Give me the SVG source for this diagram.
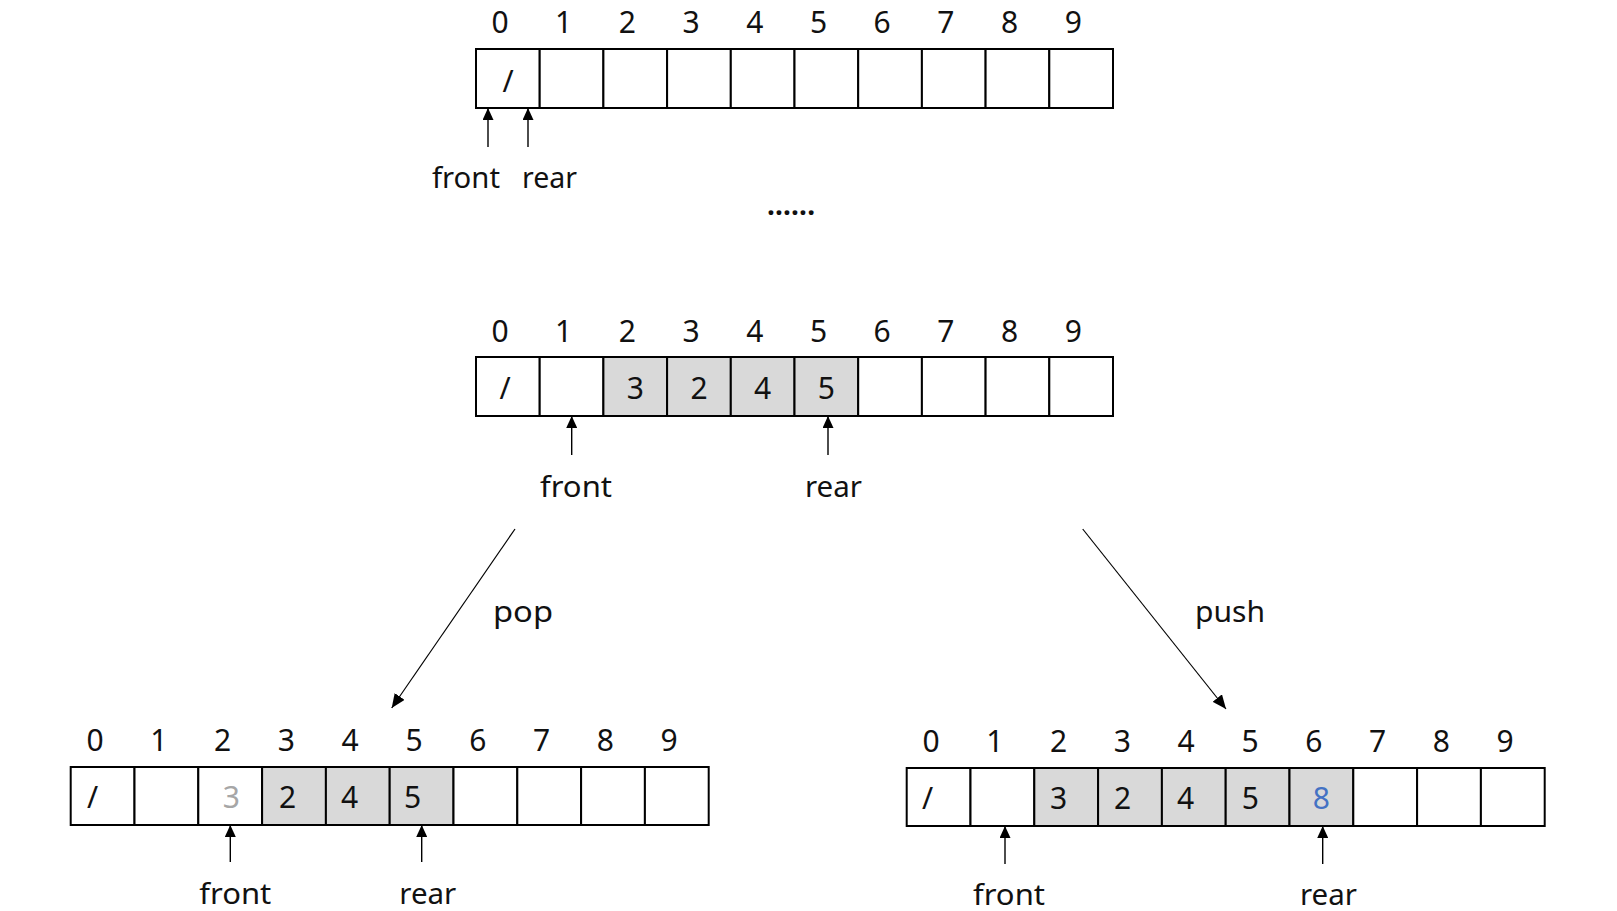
<svg xmlns="http://www.w3.org/2000/svg" width="1617" height="911" viewBox="0 0 1617 911">
<style>
text{font-family:"Noto Sans","Open Sans","Liberation Sans",sans-serif;fill:#111;}
.idx{font-size:30px;text-anchor:middle;}
.val{font-size:30px;}
.valc{font-size:30px;text-anchor:middle;}
.lbl{font-size:29px;}
.cell{fill:#fff;stroke:#000;stroke-width:2;}
.full{fill:#d9d9d9;stroke:#000;stroke-width:2;}
.ptr{stroke:#000;stroke-width:1.4;fill:none;}
.conn{stroke:#000;stroke-width:1.2;fill:none;}
</style>
<defs>
<marker id="ah" markerUnits="userSpaceOnUse" markerWidth="12" markerHeight="11" refX="12" refY="5.5" orient="auto">
<path d="M0,0 L12,5.5 L0,11 z" fill="#000"/>
</marker>
<marker id="ah2" markerUnits="userSpaceOnUse" markerWidth="14" markerHeight="12" refX="14" refY="6" orient="auto">
<path d="M0,0 L14,6 L0,12 z" fill="#000"/>
</marker>
</defs>

<g id="array-initial">
<g>
<rect class="cell" x="476" y="49" width="63.7" height="59"/>
<rect class="cell" x="539.7" y="49" width="63.7" height="59"/>
<rect class="cell" x="603.4" y="49" width="63.7" height="59"/>
<rect class="cell" x="667.1" y="49" width="63.7" height="59"/>
<rect class="cell" x="730.8" y="49" width="63.7" height="59"/>
<rect class="cell" x="794.5" y="49" width="63.7" height="59"/>
<rect class="cell" x="858.2" y="49" width="63.7" height="59"/>
<rect class="cell" x="921.9" y="49" width="63.7" height="59"/>
<rect class="cell" x="985.6" y="49" width="63.7" height="59"/>
<rect class="cell" x="1049.3" y="49" width="63.7" height="59"/>
</g>
<text class="idx" x="500" y="33">0</text>
<text class="idx" x="563.7" y="33">1</text>
<text class="idx" x="627.4" y="33">2</text>
<text class="idx" x="691.1" y="33">3</text>
<text class="idx" x="754.8" y="33">4</text>
<text class="idx" x="818.5" y="33">5</text>
<text class="idx" x="882.2" y="33">6</text>
<text class="idx" x="945.9" y="33">7</text>
<text class="idx" x="1009.6" y="33">8</text>
<text class="idx" x="1073.3" y="33">9</text>
<text class="valc" x="508" y="92">/</text>
<text class="lbl" x="432" y="188" textLength="68" lengthAdjust="spacingAndGlyphs">front</text>
<text class="lbl" x="522" y="188" textLength="55" lengthAdjust="spacingAndGlyphs">rear</text>
</g>

<g id="ellipsis">
<text x="767" y="215" font-size="28" font-weight="bold" textLength="48" lengthAdjust="spacing">......</text>
</g>

<g id="array-middle">
<g>
<rect class="cell" x="476" y="357" width="63.7" height="59"/>
<rect class="cell" x="539.7" y="357" width="63.7" height="59"/>
<rect class="full" x="603.4" y="357" width="63.7" height="59"/>
<rect class="full" x="667.1" y="357" width="63.7" height="59"/>
<rect class="full" x="730.8" y="357" width="63.7" height="59"/>
<rect class="full" x="794.5" y="357" width="63.7" height="59"/>
<rect class="cell" x="858.2" y="357" width="63.7" height="59"/>
<rect class="cell" x="921.9" y="357" width="63.7" height="59"/>
<rect class="cell" x="985.6" y="357" width="63.7" height="59"/>
<rect class="cell" x="1049.3" y="357" width="63.7" height="59"/>
</g>
<text class="idx" x="500" y="341.7">0</text>
<text class="idx" x="563.7" y="341.7">1</text>
<text class="idx" x="627.4" y="341.7">2</text>
<text class="idx" x="691.1" y="341.7">3</text>
<text class="idx" x="754.8" y="341.7">4</text>
<text class="idx" x="818.5" y="341.7">5</text>
<text class="idx" x="882.2" y="341.7">6</text>
<text class="idx" x="945.9" y="341.7">7</text>
<text class="idx" x="1009.6" y="341.7">8</text>
<text class="idx" x="1073.3" y="341.7">9</text>
<text class="valc" x="505" y="399">/</text>
<text class="valc" x="635.3" y="399">3</text>
<text class="valc" x="699" y="399">2</text>
<text class="valc" x="762.7" y="399">4</text>
<text class="valc" x="826.4" y="399">5</text>
<text class="lbl" x="540" y="497" textLength="72" lengthAdjust="spacingAndGlyphs">front</text>
<text class="lbl" x="805" y="497" textLength="57" lengthAdjust="spacingAndGlyphs">rear</text>
</g>

<g id="array-pop">
<g>
<rect class="cell" x="70.7" y="767" width="63.8" height="58"/>
<rect class="cell" x="134.5" y="767" width="63.8" height="58"/>
<rect class="cell" x="198.3" y="767" width="63.8" height="58"/>
<rect class="full" x="262.1" y="767" width="63.8" height="58"/>
<rect class="full" x="325.9" y="767" width="63.8" height="58"/>
<rect class="full" x="389.7" y="767" width="63.8" height="58"/>
<rect class="cell" x="453.5" y="767" width="63.8" height="58"/>
<rect class="cell" x="517.3" y="767" width="63.8" height="58"/>
<rect class="cell" x="581.1" y="767" width="63.8" height="58"/>
<rect class="cell" x="644.9" y="767" width="63.8" height="58"/>
</g>
<text class="idx" x="95" y="751">0</text>
<text class="idx" x="158.8" y="751">1</text>
<text class="idx" x="222.6" y="751">2</text>
<text class="idx" x="286.4" y="751">3</text>
<text class="idx" x="350.2" y="751">4</text>
<text class="idx" x="414" y="751">5</text>
<text class="idx" x="477.8" y="751">6</text>
<text class="idx" x="541.6" y="751">7</text>
<text class="idx" x="605.4" y="751">8</text>
<text class="idx" x="669.2" y="751">9</text>
<text class="val" x="87" y="808">/</text>
<text class="val" x="222.7" y="808" style="fill:#a6a6a6">3</text>
<text class="val" x="279" y="808">2</text>
<text class="val" x="341" y="808">4</text>
<text class="val" x="404" y="808">5</text>
<text class="lbl" x="199.3" y="904" textLength="72" lengthAdjust="spacingAndGlyphs">front</text>
<text class="lbl" x="399.3" y="904" textLength="57" lengthAdjust="spacingAndGlyphs">rear</text>
</g>

<g id="array-push">
<g>
<rect class="cell" x="906.7" y="768" width="63.8" height="58"/>
<rect class="cell" x="970.5" y="768" width="63.8" height="58"/>
<rect class="full" x="1034.3" y="768" width="63.8" height="58"/>
<rect class="full" x="1098.1" y="768" width="63.8" height="58"/>
<rect class="full" x="1161.9" y="768" width="63.8" height="58"/>
<rect class="full" x="1225.7" y="768" width="63.8" height="58"/>
<rect class="full" x="1289.5" y="768" width="63.8" height="58"/>
<rect class="cell" x="1353.3" y="768" width="63.8" height="58"/>
<rect class="cell" x="1417.1" y="768" width="63.8" height="58"/>
<rect class="cell" x="1480.9" y="768" width="63.8" height="58"/>
</g>
<text class="idx" x="931" y="752">0</text>
<text class="idx" x="994.8" y="752">1</text>
<text class="idx" x="1058.6" y="752">2</text>
<text class="idx" x="1122.4" y="752">3</text>
<text class="idx" x="1186.2" y="752">4</text>
<text class="idx" x="1250" y="752">5</text>
<text class="idx" x="1313.8" y="752">6</text>
<text class="idx" x="1377.6" y="752">7</text>
<text class="idx" x="1441.4" y="752">8</text>
<text class="idx" x="1505.2" y="752">9</text>
<text class="val" x="922" y="809">/</text>
<text class="val" x="1050" y="809">3</text>
<text class="val" x="1114" y="809">2</text>
<text class="val" x="1177" y="809">4</text>
<text class="val" x="1241.7" y="809">5</text>
<text class="val" x="1312.7" y="809" style="fill:#4472c4">8</text>
<text class="lbl" x="973" y="905" textLength="72" lengthAdjust="spacingAndGlyphs">front</text>
<text class="lbl" x="1300" y="905" textLength="57" lengthAdjust="spacingAndGlyphs">rear</text>
</g>

<g id="labels">
<text class="lbl" x="493" y="622" textLength="60" lengthAdjust="spacingAndGlyphs">pop</text>
<text class="lbl" x="1195" y="622" textLength="70" lengthAdjust="spacingAndGlyphs">push</text>
</g>

<g id="connectors">
<line class="ptr" x1="488" y1="147" x2="488" y2="108" marker-end="url(#ah)"/>
<line class="ptr" x1="528" y1="147" x2="528" y2="108" marker-end="url(#ah)"/>
<line class="ptr" x1="571.7" y1="455" x2="571.7" y2="416" marker-end="url(#ah)"/>
<line class="ptr" x1="828" y1="455" x2="828" y2="416" marker-end="url(#ah)"/>
<line class="ptr" x1="230.3" y1="862" x2="230.3" y2="825" marker-end="url(#ah)"/>
<line class="ptr" x1="421.7" y1="862" x2="421.7" y2="825" marker-end="url(#ah)"/>
<line class="ptr" x1="1005" y1="864" x2="1005" y2="826" marker-end="url(#ah)"/>
<line class="ptr" x1="1322.7" y1="864" x2="1322.7" y2="826" marker-end="url(#ah)"/>
<line class="conn" x1="515" y1="529" x2="391.7" y2="708" marker-end="url(#ah2)"/>
<line class="conn" x1="1082.7" y1="529" x2="1226" y2="709" marker-end="url(#ah2)"/>
</g>
</svg>
